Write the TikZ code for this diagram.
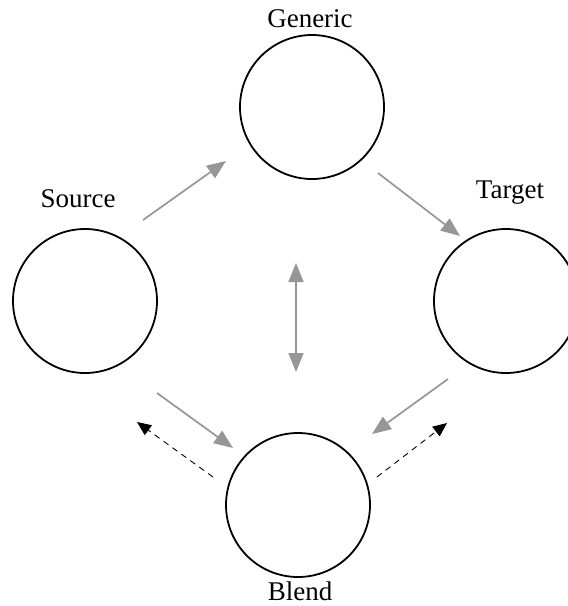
\documentclass[tikz,border=0pt]{standalone}
\usepackage{fontspec}
\setmainfont{Liberation Serif}
\usetikzlibrary{arrows.meta}
\definecolor{arrowgray}{RGB}{150,150,150}
\tikzset{
  space/.style={draw=black, circle, line width=1.8pt, minimum size=144pt, inner sep=0pt},
  lbl/.style={anchor=base, inner sep=0pt, font=\fontsize{27}{32}\selectfont},
  flow/.style={draw=arrowgray, line width=1.7pt, -{Triangle[length=19pt,width=15pt]}},
  biflow/.style={draw=arrowgray, line width=1.7pt, {Triangle[length=19pt,width=15pt]}-{Triangle[length=19pt,width=15pt]}},
  back/.style={draw=black, line width=0.9pt, dash pattern=on 6pt off 5pt, -{Triangle[length=14pt,width=12pt]}}
}
\begin{document}
\begin{tikzpicture}[x=1pt,y=-1pt]
\useasboundingbox (0,0) rectangle (568,606);
\node[space] (generic) at (312,107) {};
\node[space] (source) at (85,301) {};
\node[space] (target) at (506,301) {};
\node[space] (blend) at (298,505) {};
\node[lbl] (lgeneric) at (310,27) {Generic};
\node[lbl] (lsource) at (78,207) {Source};
\node[lbl] (ltarget) at (510,198) {Target};
\node[lbl] (lblend) at (300,600) {Blend};
\coordinate (sg1) at (143,220);
\coordinate (sg2) at (226,161);
\coordinate (gt1) at (378,173);
\coordinate (gt2) at (460,236);
\coordinate (gb1) at (296,263);
\coordinate (gb2) at (296,372);
\coordinate (sb1) at (157,393);
\coordinate (sb2) at (233,448);
\coordinate (tb1) at (448,379);
\coordinate (tb2) at (372,434);
\coordinate (bs1) at (213,477);
\coordinate (bs2) at (137,422);
\coordinate (bt1) at (377,477);
\coordinate (bt2) at (447,423);
\draw[flow] (sg1) -- (sg2);
\draw[flow] (gt1) -- (gt2);
\draw[biflow] (gb1) -- (gb2);
\draw[flow] (sb1) -- (sb2);
\draw[flow] (tb1) -- (tb2);
\draw[back] (bs1) -- (bs2);
\draw[back] (bt1) -- (bt2);
\end{tikzpicture}
\end{document}
